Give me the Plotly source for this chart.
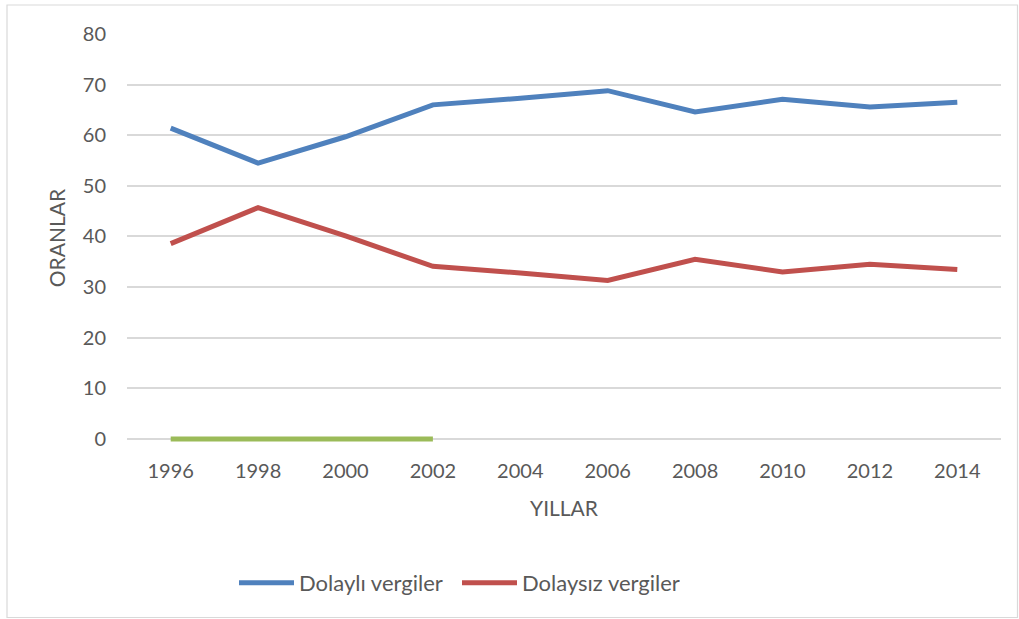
import plotly.graph_objects as go

years = ["1996", "1998", "2000", "2002", "2004", "2006", "2008", "2010", "2012", "2014"]
dolayli = [61.4, 54.5, 59.7, 66.0, 67.3, 68.8, 64.6, 67.1, 65.6, 66.5]
dolaysiz = [38.6, 45.7, 40.1, 34.1, 32.8, 31.3, 35.5, 33.0, 34.5, 33.5]
green_years = ["1996", "1998", "2000", "2002"]
green_vals = [0, 0, 0, 0]

W, H = 1019, 619
L, R, T, B = 127, 18, 34, 177
pw, ph = W - L - R, H - T - B
YMIN, YMAX = -0.6, 80

font_fam = "Lato, 'Open Sans', sans-serif"
gray = "#595959"

fig = go.Figure()
fig.add_trace(go.Scatter(x=green_years, y=green_vals, mode="lines",
                         line=dict(color="#9BBB59", width=5), showlegend=False))
fig.add_trace(go.Scatter(x=years, y=dolayli, mode="lines", name="Dolaylı vergiler",
                         line=dict(color="#4F81BD", width=5)))
fig.add_trace(go.Scatter(x=years, y=dolaysiz, mode="lines", name="Dolaysız vergiler",
                         line=dict(color="#C0504D", width=5)))

def px_x(x):
    return (x - L) / pw

def px_y(y):
    return (H - B - y) / ph

fig.update_layout(
    width=W, height=H,
    margin=dict(l=L, r=R, t=T, b=B),
    paper_bgcolor="white", plot_bgcolor="white",
    font=dict(family=font_fam, size=20, color=gray),
    xaxis=dict(type="category", categoryorder="array", categoryarray=years,
               range=[-0.5, 9.5], showgrid=False, showline=False, zeroline=False,
               ticks="", ticklabelstandoff=15,
               title=dict(text="YILLAR", font=dict(size=21, color=gray), standoff=20)),
    yaxis=dict(range=[YMIN, YMAX], tick0=0, dtick=10, showgrid=True, gridcolor="#D9D9D9", gridwidth=1.5,
               zeroline=True, zerolinecolor="#D9D9D9", zerolinewidth=1.5,
               showline=False, ticks="", ticklabelstandoff=20,
               title=dict(text="ORANLAR", font=dict(size=21, color=gray), standoff=11)),
    legend=dict(orientation="h", x=px_x(234), xanchor="left", y=px_y(583), yanchor="middle",
                font=dict(size=22, color=gray), bgcolor="rgba(0,0,0,0)", itemwidth=55,
                entrywidth=153, traceorder="normal"),
    shapes=[dict(type="rect", xref="paper", yref="paper",
                 x0=px_x(7), x1=px_x(1017.5), y0=px_y(617.5), y1=px_y(5),
                 line=dict(color="#D9D9D9", width=1.2), layer="below")],
)

fig.write_html("out.html", config={"displayModeBar": False},
               post_script="document.body.style.margin='0';document.body.style.overflow='hidden';")
